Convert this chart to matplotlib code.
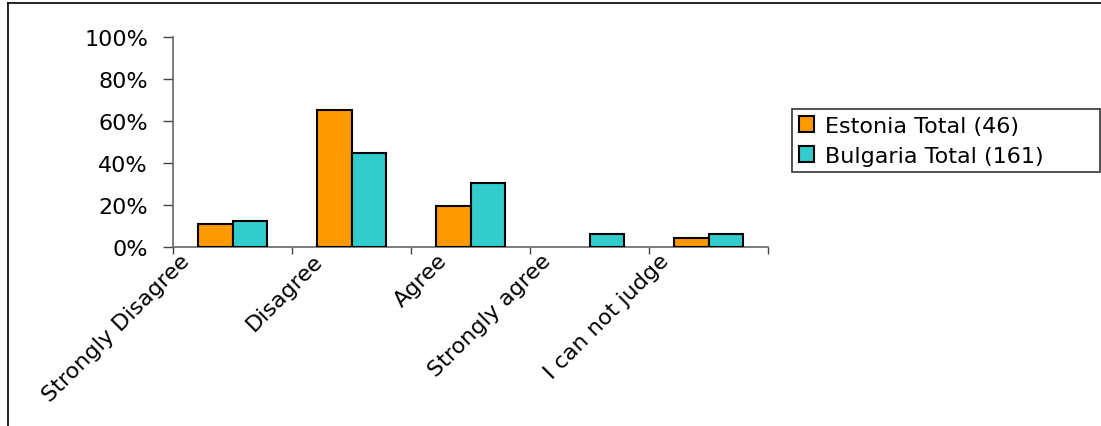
import numpy as np
import matplotlib
matplotlib.use("Agg")
import matplotlib.pyplot as plt
import matplotlib.transforms as mtransforms
from matplotlib.lines import Line2D
from matplotlib.ticker import FuncFormatter

plt.rcParams['font.family'] = ['DejaVu Sans']

categories = ["Strongly Disagree", "Disagree", "Agree", "Strongly agree", "I can not judge"]
estonia = [10.9, 65.2, 19.6, 0.0, 4.3]       # Estonia Total (46)
bulgaria = [12.4, 44.7, 30.4, 6.2, 6.2]      # Bulgaria Total (161)
series_names = ["Estonia Total (46)", "Bulgaria Total (161)"]

W, H = 1101, 427
fs = 16
fig = plt.figure(figsize=(W / 100, H / 100), dpi=100)
# axes box in pixel terms: x 173..768, y 38..248 (from top)
ax = fig.add_axes([173 / W, 1 - 248 / H, (768 - 173) / W, (248 - 38) / H])

x = np.arange(len(categories))
bw = 0.286
b1 = ax.bar(x - bw / 2, estonia, bw, color="#ff9900", edgecolor="black", linewidth=1.5,
            label=series_names[0], zorder=3)
b2 = ax.bar(x + bw / 2, bulgaria, bw, color="#33cccc", edgecolor="black", linewidth=1.5,
            label=series_names[1], zorder=3)
# empty categories get no outline
for cont in (b1, b2):
    for patch in cont.patches:
        if patch.get_height() == 0:
            patch.set_visible(False)

ax.set_xlim(-0.5, len(categories) - 0.5)
ax.set_ylim(0, 100)
ax.set_yticks(np.arange(0, 101, 20))
ax.yaxis.set_major_formatter(FuncFormatter(lambda v, p: f"{int(v)}%"))
ax.tick_params(axis="y", labelsize=fs, length=7, width=1, color="#444444", pad=11)

# category ticks sit between groups, labels under each group
ax.set_xticks(np.arange(-0.5, len(categories), 1.0))
ax.set_xticklabels([])
ax.set_xticks(x, minor=True)
labels = ax.set_xticklabels(categories, minor=True, rotation=45, ha="right", va="center",
                            rotation_mode="anchor", fontsize=fs)
ax.tick_params(axis="x", which="major", length=5, width=1, color="#444444", direction="out")
ax.tick_params(axis="x", which="minor", length=0, pad=0)
# Excel-style placement: longer labels shift further left of the group centre
for lab, name in zip(labels, categories):
    dx = -(19 + 1.6 * len(name)) / 100
    off = mtransforms.ScaledTranslation(dx, -0.10, fig.dpi_scale_trans)
    lab.set_transform(lab.get_transform() + off)

for s in ["top", "right"]:
    ax.spines[s].set_visible(False)
for s in ["left", "bottom"]:
    ax.spines[s].set_color("#666666")
    ax.spines[s].set_linewidth(1.2)

leg = fig.legend(handles=[b1, b2], loc="upper left",
                 bbox_to_anchor=(792 / W, 1 - 176 / H, (1100 - 792) / W, (176 - 110) / H),
                 mode="expand", fontsize=fs, frameon=True, fancybox=False, edgecolor="black",
                 handlelength=0.7, handleheight=0.7, handletextpad=0.5,
                 borderpad=0.3, labelspacing=0.45, borderaxespad=0)
leg.get_frame().set_linewidth(1.2)

# outer chart frame (top and left edges)
fig.add_artist(Line2D([8 / W, 8 / W], [0, 1 - 4 / H], color="black", linewidth=1.2,
                      transform=fig.transFigure))
fig.add_artist(Line2D([8 / W, 1], [1 - 4 / H, 1 - 4 / H], color="black", linewidth=1.2,
                      transform=fig.transFigure))

fig.savefig("out.png", dpi=100)
